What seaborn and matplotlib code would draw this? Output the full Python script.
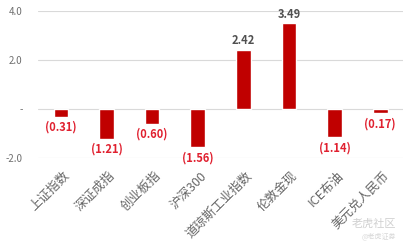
import matplotlib
matplotlib.use("Agg")
import matplotlib.pyplot as plt
import matplotlib.transforms as mtransforms
import seaborn as sns
import pandas as pd

categories = ["上证指数", "深证成指", "创业板指", "沪深300", "道琼斯工业指数", "伦敦金现", "ICE布油", "美元兑人民币"]
values = [-0.31, -1.21, -0.60, -1.56, 2.42, 3.49, -1.14, -0.17]
ytick_vals = [-2.0, 0.0, 2.0, 4.0]
ytick_labels = ["-2.0", "-", "2.0", "4.0"]

sns.set_theme(style="white")
plt.rcParams['font.family'] = ['Noto Sans CJK SC', 'DejaVu Sans']

df = pd.DataFrame({"cat": categories, "val": values})
fig = plt.figure(figsize=(4.13, 2.44), dpi=100)
ax = fig.add_axes([0.092, 0.352, 0.884, 0.603])
sns.barplot(data=df, x="cat", y="val", color="#C00000", saturation=1, width=0.32, ax=ax)

ax.set_ylim(-2.0, 4.0)
ax.set_xlim(-0.5, len(categories) - 0.5)
ax.set_yticks(ytick_vals)
ax.set_yticklabels(ytick_labels, color="#707070", fontsize=7)
ax.set_xticks(range(len(categories)))
ax.set_xticklabels(categories, rotation=45, ha="right", rotation_mode="anchor", color="#666666", fontsize=9)
ax.tick_params(axis="x", length=0, pad=8)
ax.tick_params(axis="y", length=0, pad=11)
offset = mtransforms.ScaledTranslation(2 / 100, 0, fig.dpi_scale_trans)
for lbl in ax.get_xticklabels():
    lbl.set_transform(lbl.get_transform() + offset)
ax.set_xlabel("")
ax.set_ylabel("")
for s in ax.spines.values():
    s.set_visible(False)
ax.yaxis.grid(True, color="#D9D9D9", linewidth=0.8)
ax.set_axisbelow(True)

for i, v in enumerate(values):
    if v < 0:
        ax.annotate(f"({abs(v):.2f})", (i, v), xytext=(0, -3), textcoords="offset points",
                    ha="center", va="top", color="#E0202F", fontsize=8, fontweight="bold")
    else:
        ax.annotate(f"{v:.2f}", (i, v), xytext=(0, 2), textcoords="offset points",
                    ha="center", va="bottom", color="#505050", fontsize=8, fontweight="bold")

fig.text(0.96, 0.085, "老虎社区", ha="right", va="center", color="#D0D0D0", fontsize=8)
fig.text(0.96, 0.03, "@老虎证券", ha="right", va="center", color="#D8D8D8", fontsize=5)

fig.savefig("out.png", dpi=100)
